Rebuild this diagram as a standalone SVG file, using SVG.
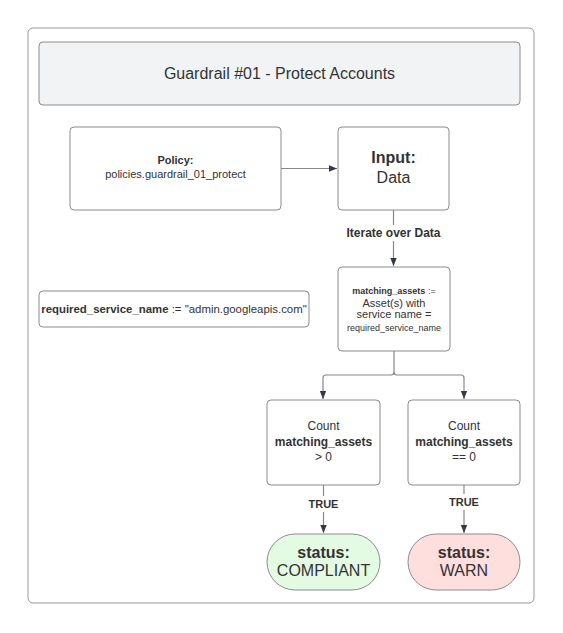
<svg xmlns="http://www.w3.org/2000/svg" width="563" height="633" viewBox="0 0 563 633">
<style>
text{font-family:"Liberation Sans",Arial,sans-serif;fill:#333333;text-anchor:middle}
.b{font-weight:bold}
.box{fill:#ffffff;stroke:#8c8c8c;stroke-width:1}
.ln{fill:none;stroke:#888888;stroke-width:1.2}
</style>
<defs>
<marker id="ah" viewBox="0 0 10 10" refX="10" refY="5" markerWidth="8" markerHeight="8" markerUnits="userSpaceOnUse" orient="auto">
<path d="M0,1 L10,5 L0,9 Z" fill="#333a45"/>
</marker>
</defs>
<rect width="563" height="633" fill="#ffffff"/>
<g id="frame"><rect x="28" y="28" width="506" height="575" rx="5" fill="#ffffff" stroke="#999999" stroke-width="1"/></g>
<g id="title"><rect x="39" y="42" width="481" height="63" rx="4" fill="#f2f3f5" stroke="#8c8c8c"/><text x="279.5" y="79" font-size="16">Guardrail #01 - Protect Accounts</text></g>
<g id="policy"><rect class="box" x="70" y="127" width="211" height="83" rx="4"/><text x="175.5" y="164" font-size="11" class="b">Policy:</text><text x="175.5" y="178" font-size="11">policies.guardrail_01_protect</text></g>
<g id="input"><rect class="box" x="338" y="127" width="111" height="83" rx="4"/><text x="393.5" y="163" font-size="16" class="b" style="font-weight:600">Input:</text><text x="393.5" y="183" font-size="16">Data</text></g>
<g id="required"><rect class="box" x="39" y="291" width="270" height="36" rx="4"/><text x="174" y="313" font-size="11.4"><tspan class="b">required_service_name</tspan> := "admin.googleapis.com"</text></g>
<g id="matching"><rect class="box" x="338" y="267" width="112" height="84" rx="4"/><text x="394" y="293.5" font-size="9"><tspan class="b">matching_assets</tspan> :=</text><text x="394" y="306.5" font-size="11">Asset(s) with</text><text x="394" y="318" font-size="11">service name =</text><text x="394" y="330.5" font-size="9">required_service_name</text></g>
<g id="count_gt"><rect class="box" x="267" y="400" width="113" height="85" rx="4"/><text x="323.5" y="430" font-size="12">Count</text><text x="323.5" y="445.5" font-size="12" class="b">matching_assets</text><text x="323.5" y="461" font-size="12">&gt; 0</text></g>
<g id="count_eq"><rect class="box" x="408" y="400" width="112" height="85" rx="4"/><text x="464" y="430" font-size="12">Count</text><text x="464" y="445.5" font-size="12" class="b">matching_assets</text><text x="464" y="461" font-size="12">== 0</text></g>
<g id="compliant"><rect x="267" y="534" width="113" height="56" rx="28" fill="#e3fae3" stroke="#8c8c8c"/><text x="323.5" y="557.5" font-size="16" class="b">status:</text><text x="323.5" y="576" font-size="16">COMPLIANT</text></g>
<g id="warn"><rect x="408" y="534" width="112" height="56" rx="28" fill="#ffdede" stroke="#8c8c8c"/><text x="464" y="557.5" font-size="16" class="b">status:</text><text x="464" y="576" font-size="16">WARN</text></g>
<g id="connectors">
<path class="ln" d="M281,168.5 L337,168.5" marker-end="url(#ah)"/>
<path class="ln" d="M393.5,210 L393.5,225"/>
<text x="393.5" y="237" font-size="12" class="b">Iterate over Data</text>
<path class="ln" d="M393.5,241 L393.5,266" marker-end="url(#ah)"/>
<path class="ln" d="M394,351 L394,372 Q394,375 391,375 L326,375 Q323,375 323,378 L323,399" marker-end="url(#ah)"/>
<path class="ln" d="M394,372 Q394,375 397,375 L461,375 Q464,375 464,378 L464,399" marker-end="url(#ah)"/>
<path class="ln" d="M323.5,485 L323.5,496"/>
<text x="323.5" y="508" font-size="11" class="b">TRUE</text>
<path class="ln" d="M323.5,512 L323.5,533" marker-end="url(#ah)"/>
<path class="ln" d="M464,485 L464,494"/>
<text x="464" y="506" font-size="11" class="b">TRUE</text>
<path class="ln" d="M464,510 L464,533" marker-end="url(#ah)"/>
</g>
</svg>
